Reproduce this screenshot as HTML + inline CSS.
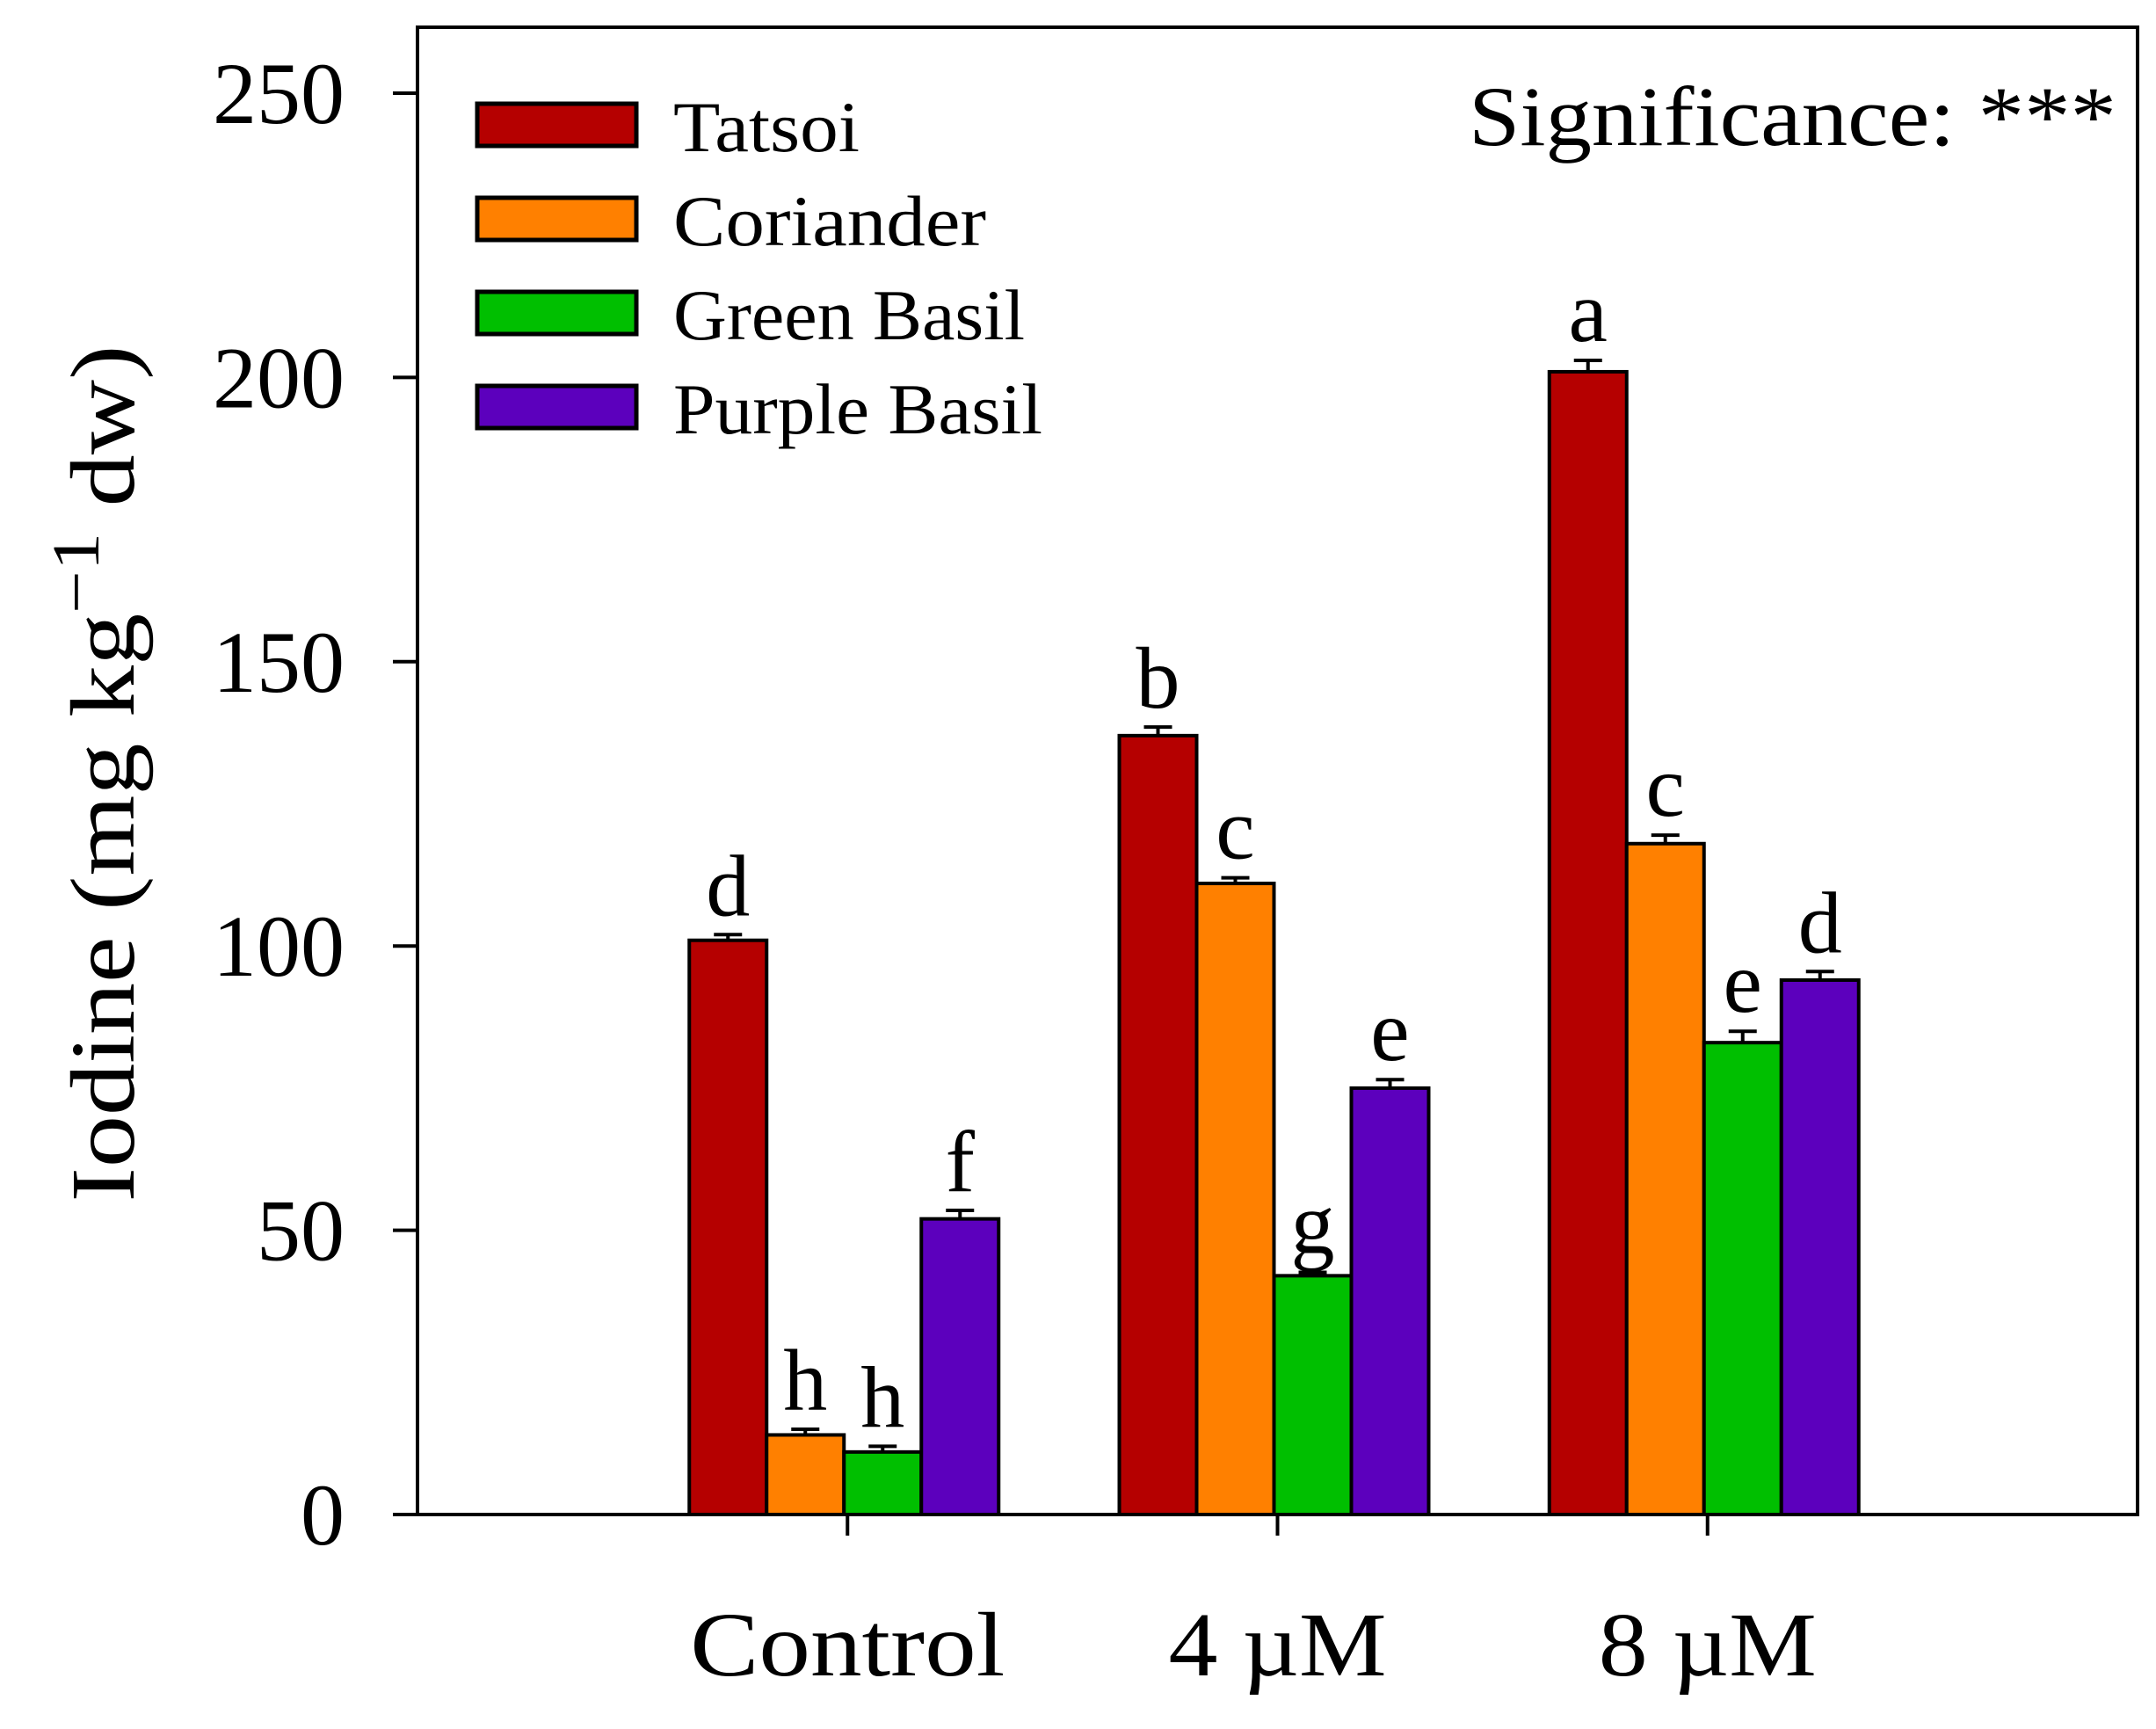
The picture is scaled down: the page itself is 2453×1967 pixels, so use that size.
<!DOCTYPE html>
<html><head><meta charset="utf-8"><style>
html,body{margin:0;padding:0;background:#fff}
svg{display:block}
text{font-family:"Liberation Serif",serif;fill:#000}
</style></head><body>
<svg id="chart" width="2453" height="1967" viewBox="0 0 2453 1967" xmlns="http://www.w3.org/2000/svg">
<rect x="475" y="31" width="1957" height="1692" fill="none" stroke="#000" stroke-width="4"/>
<g id="bars"></g>
<g id="yaxis"></g>
<g id="xaxis"></g>
<text transform="translate(152,880) rotate(-90)" text-anchor="middle" font-size="104" textLength="975" lengthAdjust="spacingAndGlyphs">Iodine (mg kg<tspan dy="-40" font-size="76">−1</tspan><tspan dy="40"> dw)</tspan></text>
<text x="1671" y="165" font-size="96" textLength="737" lengthAdjust="spacingAndGlyphs">Significance: ***</text>
<g id="legend"></g>
</svg>
<script>
const categories = ["Control", "4 µM", "8 µM"];
const seriesNames = ["Tatsoi", "Coriander", "Green Basil", "Purple Basil"];
const tatsoi = [101, 137, 201];
const coriander = [14, 111, 118];
const greenBasil = [11, 42, 83];
const purpleBasil = [52, 75, 94];
const tatsoiErr = [1, 1.5, 2];
const corianderErr = [1, 1, 1.5];
const greenBasilErr = [1, 0.6, 2];
const purpleBasilErr = [1.5, 1.5, 1.5];
const tatsoiLetters = ["d", "b", "a"];
const corianderLetters = ["h", "c", "c"];
const greenBasilLetters = ["h", "g", "e"];
const purpleBasilLetters = ["f", "e", "d"];
const yTicks = [0, 50, 100, 150, 200, 250];

const colors = ["#b50000", "#ff8000", "#00bf00", "#5c00bd"];
const values = [tatsoi, coriander, greenBasil, purpleBasil];
const errs = [tatsoiErr, corianderErr, greenBasilErr, purpleBasilErr];
const letters = [tatsoiLetters, corianderLetters, greenBasilLetters, purpleBasilLetters];
const labelLen = [358, 248, 248];
const legendLen = [212, 356, 400, 420];
const NS = "http://www.w3.org/2000/svg";
const X0 = 475, X1 = 2432, Y0 = 1723, Ytop = 106;
function y(v){ return Y0 - (v/250)*(Y0-Ytop); }
function xc(i){ return X0 + (X1-X0)*(i+1)/(categories.length+1); }
const BW = 88;
function mk(tag, attrs, parent){ const e=document.createElementNS(NS,tag); for(const k in attrs) e.setAttribute(k,attrs[k]); parent.appendChild(e); return e; }

const bars = document.getElementById('bars');
categories.forEach((c,i)=>{
  values.forEach((arr,s)=>{
    const left = xc(i) - 4 + (s-2)*BW;
    const top = y(arr[i]);
    const r = mk('rect',{x:left,y:top,width:BW,height:Y0-top,fill:colors[s],stroke:'#000','stroke-width':4},bars);
    
    
    const cx = left + BW/2, et = y(arr[i]+errs[s][i]);
    const e = mk('path',{d:`M${cx},${top}V${et}M${cx-16},${et}H${cx+16}`,stroke:'#000','stroke-width':4,fill:'none'},bars);
    
    
    const t = mk('text',{x:cx,y:et-22,'text-anchor':'middle','font-size':100},bars);
    t.textContent = letters[s][i];
    
    
  });
});

const ya = document.getElementById('yaxis');
yTicks.forEach(v=>{
  const l = mk('line',{x1:447,x2:475,y1:y(v),y2:y(v),stroke:'#000','stroke-width':4},ya);
  
  
  const t = mk('text',{x:392,y:y(v)+34,'text-anchor':'end','font-size':100},ya);
  t.textContent = v;
  
  
});

const xa = document.getElementById('xaxis');
categories.forEach((c,i)=>{
  const l = mk('line',{x1:xc(i),x2:xc(i),y1:Y0,y2:Y0+24,stroke:'#000','stroke-width':4},xa);
  
  
  const t = mk('text',{x:xc(i),y:1906,'text-anchor':'middle','font-size':104,textLength:labelLen[i],lengthAdjust:'spacingAndGlyphs'},xa);
  t.textContent = c;
  
  
});

const lg = document.getElementById('legend');
seriesNames.forEach((n,s)=>{
  const yy = 118 + s*107;
  const r = mk('rect',{x:543,y:yy,width:181,height:48,fill:colors[s],stroke:'#000','stroke-width':5},lg);
  
  
  const t = mk('text',{x:766,y:yy+54,'font-size':82,textLength:legendLen[s],lengthAdjust:'spacingAndGlyphs'},lg);
  t.textContent = n;
  
  
});
</script>
</body></html>
